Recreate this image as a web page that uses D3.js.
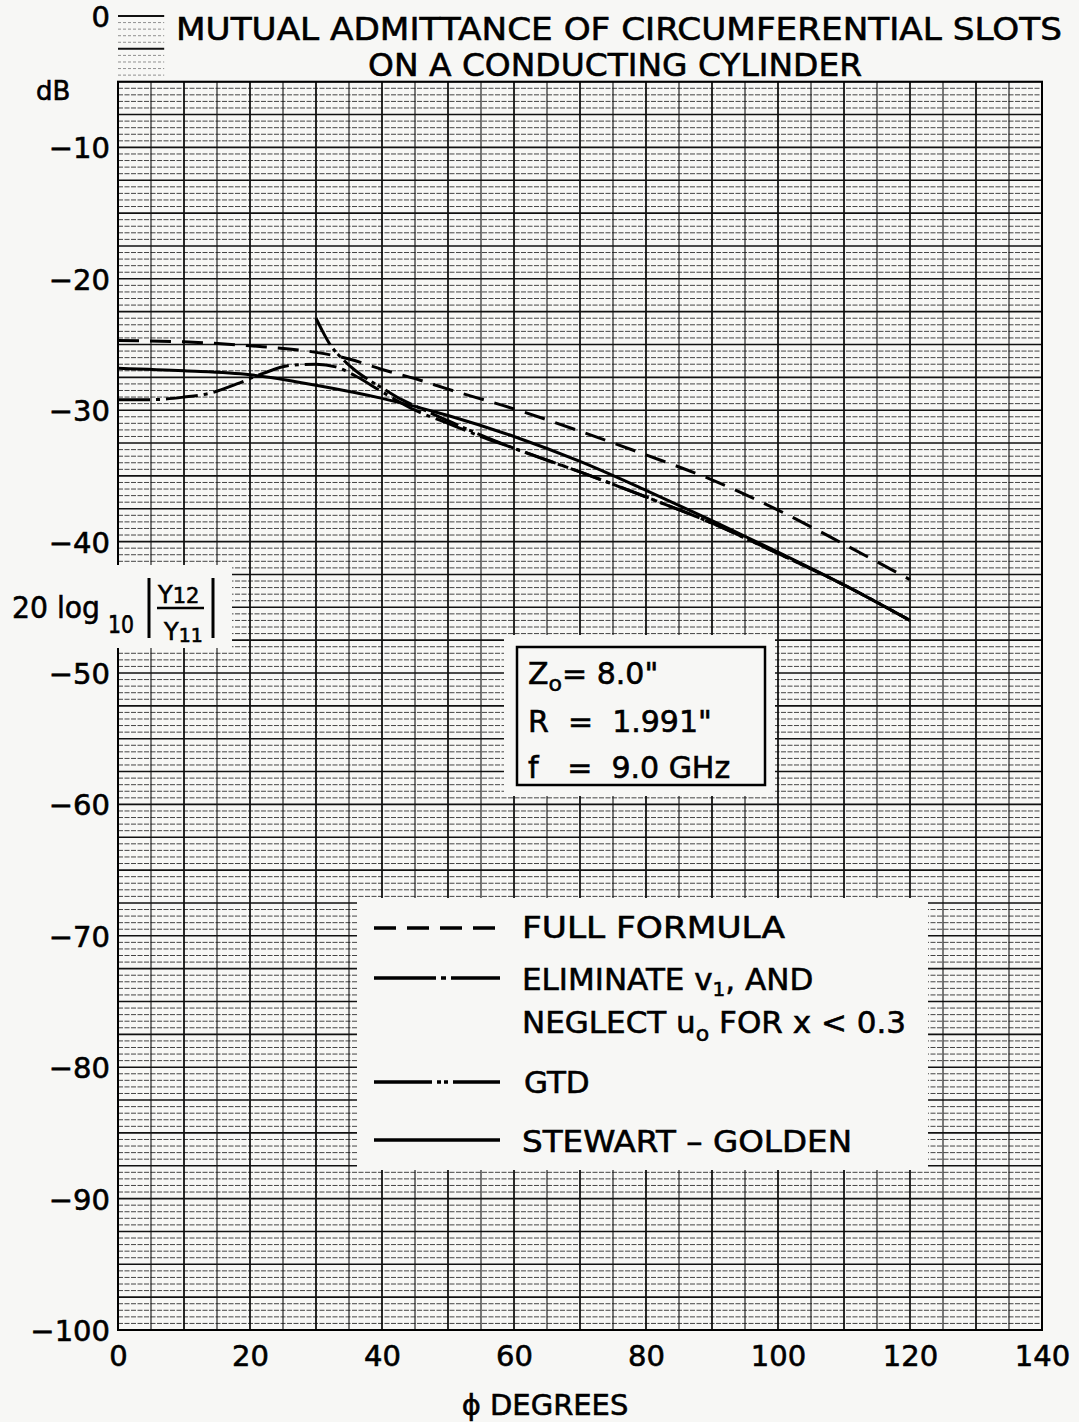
<!DOCTYPE html>
<html>
<head>
<meta charset="utf-8">
<script src="https://cdn.jsdelivr.net/npm/d3@7"></script>
<style>
  body { margin: 0; background: #f7f7f5; }
  svg { display: block; }
  text { font-family: "DejaVu Sans", sans-serif; fill: #000; }
</style>
</head>
<body>
<svg id="chart"></svg>
<script>
const WIDTH = 1079;
const HEIGHT = 1422;

// values (phi in degrees, level in dB)
const phiFull = [0, 10, 20, 30, 35, 40, 45, 50, 60, 70, 80, 90, 100, 110, 120];
const dbFull = [-24.7, -24.8, -25.1, -25.6, -26.1, -26.9, -27.6, -28.4, -29.9, -31.6, -33.4, -35.3, -37.6, -40.2, -42.9];

const phiElim = [0, 5, 10, 14, 18, 22, 26, 30, 33, 36, 40, 45, 50, 55, 60, 70, 80, 90, 100, 110, 120];
const dbElim = [-29.2, -29.2, -29.0, -28.7, -28.0, -27.2, -26.6, -26.5, -26.7, -27.4, -28.6, -30.0, -31.0, -32.0, -32.9, -34.7, -36.6, -38.6, -40.9, -43.3, -46.0];

const phiGTD = [30, 31, 32, 34, 36, 38, 40, 43, 46, 50, 55, 60, 70, 80, 90, 100, 110, 120];
const dbGTD = [-23.0, -24.0, -24.9, -26.1, -27.0, -27.7, -28.3, -29.2, -29.9, -30.8, -31.9, -32.9, -34.7, -36.6, -38.6, -40.9, -43.3, -46.0];

const phiSG = [0, 10, 20, 30, 40, 50, 60, 70, 80, 90, 100, 110, 120];
const dbSG = [-26.8, -27.0, -27.3, -28.1, -29.1, -30.4, -32.0, -33.9, -36.1, -38.4, -40.8, -43.3, -46.0];

const xTicks = [0, 20, 40, 60, 80, 100, 120, 140];
const yTicks = [0, -10, -20, -30, -40, -50, -60, -70, -80, -90, -100];

const seriesNames = ["FULL FORMULA", "ELIMINATE", "GTD", "STEWART - GOLDEN"];
const paramLines = ["8.0\"", "1.991\"", "9.0 GHz"];

const FULL_DASH = "21,11";
const ELIM_DASH = "32,6,4,6";
const GTD_DASH = "30,5,4,3,4,5";

const x = d3.scaleLinear().domain([0, 140]).range([118, 1042]);
const y = d3.scaleLinear().domain([0, -100]).range([16, 1330]);

const svg = d3.select("#chart").attr("width", WIDTH).attr("height", HEIGHT);

// ---- graph paper ----
const grid = svg.append("g");

// main grid runs -5 .. -100 dB, small stub 0 .. -5 at the top left
const halfSteps = d3.range(10, 201).map(i => -i / 2);
grid.selectAll("line.h")
    .data(halfSteps)
    .enter().append("line")
    .attr("x1", x(0)).attr("x2", x(140))
    .attr("y1", d => y(d)).attr("y2", d => y(d))
    .attr("stroke", d => (d * 2) % 5 === 0 ? "#111" : "#444")
    .attr("stroke-width", d => (d * 2) % 5 === 0 ? 1.6 : 1)
    .attr("stroke-dasharray", d => (d * 2) % 5 === 0 ? null : "5,1.5");

const stubSteps = d3.range(0, 10).map(i => -i / 2);
grid.selectAll("line.s")
    .data(stubSteps)
    .enter().append("line")
    .attr("x1", x(0)).attr("x2", x(7))
    .attr("y1", d => y(d)).attr("y2", d => y(d))
    .attr("stroke", d => (d * 2) % 5 === 0 ? "#111" : "#777")
    .attr("stroke-width", d => (d * 2) % 5 === 0 ? 2 : 0.8)
    .attr("stroke-dasharray", d => (d * 2) % 5 === 0 ? null : "3,2");

const vSteps = d3.range(0, 141, 5);
grid.selectAll("line.v")
    .data(vSteps)
    .enter().append("line")
    .attr("x1", d => x(d)).attr("x2", d => x(d))
    .attr("y1", y(-5)).attr("y2", y(-100))
    .attr("stroke", "#111")
    .attr("stroke-width", d => d % 10 === 0 ? 1.8 : 1.1);

grid.append("rect")
    .attr("x", x(0)).attr("y", y(-5))
    .attr("width", x(140) - x(0)).attr("height", y(-100) - y(-5))
    .attr("fill", "none").attr("stroke", "#000").attr("stroke-width", 2);

// ---- curves ----
const line = d3.line()
    .x(d => x(d[0]))
    .y(d => y(d[1]))
    .curve(d3.curveMonotoneX);

const curves = svg.append("g").attr("fill", "none").attr("stroke", "#000").attr("stroke-width", 3);
curves.append("path").attr("d", line(d3.zip(phiSG, dbSG)));
curves.append("path").attr("d", line(d3.zip(phiFull, dbFull))).attr("stroke-dasharray", FULL_DASH);
curves.append("path").attr("d", line(d3.zip(phiElim, dbElim))).attr("stroke-dasharray", ELIM_DASH);
curves.append("path").attr("d", line(d3.zip(phiGTD, dbGTD))).attr("stroke-dasharray", GTD_DASH);

// ---- axes ----
const yAxis = svg.append("g")
    .attr("transform", "translate(110,0)")
    .call(d3.axisLeft(y).tickValues(yTicks).tickSize(0).tickPadding(0));
yAxis.select(".domain").remove();
yAxis.selectAll("text")
    .attr("font-size", 29).attr("font-family", "DejaVu Sans")
    .attr("fill", "#000").attr("stroke", "#000").attr("stroke-width", 0.6)
    .attr("dy", "0.36em");
yAxis.attr("font-size", null).attr("font-family", null);

const xAxis = svg.append("g")
    .attr("transform", "translate(0,1330)")
    .call(d3.axisBottom(x).tickValues(xTicks).tickSize(0).tickPadding(15));
xAxis.select(".domain").remove();
xAxis.selectAll("text")
    .attr("font-size", 29).attr("font-family", "DejaVu Sans")
    .attr("fill", "#000").attr("stroke", "#000").attr("stroke-width", 0.6);
xAxis.attr("font-size", null).attr("font-family", null);

const labels = svg.append("g").attr("stroke", "#000").attr("stroke-width", 0.6);

labels.append("text").attr("x", 36).attr("y", 100).attr("font-size", 26).text("dB");

// title
labels.append("text").attr("x", 176).attr("y", 40).attr("font-size", 32)
    .attr("textLength", 886).attr("lengthAdjust", "spacingAndGlyphs")
    .text("MUTUAL ADMITTANCE OF CIRCUMFERENTIAL SLOTS");
labels.append("text").attr("x", 368).attr("y", 76).attr("font-size", 32)
    .attr("textLength", 494).attr("lengthAdjust", "spacingAndGlyphs")
    .text("ON A CONDUCTING CYLINDER");

// x title
labels.append("text").attr("x", 545).attr("y", 1415).attr("font-size", 29)
    .attr("text-anchor", "middle")
    .text("ϕ DEGREES");

// ---- y label box ----
svg.append("rect").attr("x", 0).attr("y", 565).attr("width", 232).attr("height", 83).attr("fill", "#f7f7f5");
const ylab = svg.append("g").attr("stroke", "#000").attr("stroke-width", 0.6);
ylab.append("text").attr("x", 12).attr("y", 618).attr("font-size", 30)
    .attr("textLength", 88).attr("lengthAdjust", "spacingAndGlyphs").text("20 log");
ylab.append("text").attr("x", 108).attr("y", 633).attr("font-size", 24)
    .attr("textLength", 26).attr("lengthAdjust", "spacingAndGlyphs").text("10");
ylab.append("line").attr("x1", 149).attr("x2", 149).attr("y1", 578).attr("y2", 638).attr("stroke-width", 3);
ylab.append("line").attr("x1", 213).attr("x2", 213).attr("y1", 578).attr("y2", 638).attr("stroke-width", 3);
ylab.append("line").attr("x1", 157).attr("x2", 204).attr("y1", 608).attr("y2", 608).attr("stroke-width", 2.5);
const num = ylab.append("text").attr("x", 158).attr("y", 603).attr("font-size", 24);
num.append("tspan").text("Y");
num.append("tspan").attr("font-size", 21).text("12");
const den = ylab.append("text").attr("x", 164).attr("y", 640).attr("font-size", 24);
den.append("tspan").text("Y");
den.append("tspan").attr("font-size", 19).attr("dy", 2).text("11");

// ---- parameter box ----
svg.append("rect").attr("x", 504).attr("y", 635).attr("width", 271).attr("height", 161).attr("fill", "#f7f7f5");
svg.append("rect").attr("x", 517).attr("y", 647).attr("width", 248).attr("height", 138)
    .attr("fill", "none").attr("stroke", "#000").attr("stroke-width", 2.5);
const params = svg.append("g").attr("font-size", 30).attr("stroke", "#000").attr("stroke-width", 0.6);
const p1 = params.append("text").attr("x", 528).attr("y", 684);
p1.append("tspan").text("Z");
p1.append("tspan").attr("font-size", 22).attr("dy", 7).text("o");
p1.append("tspan").attr("dy", -7).text("= " + paramLines[0]);
params.append("text").attr("x", 528).attr("y", 732).attr("xml:space", "preserve")
    .text("R  =  " + paramLines[1]);
params.append("text").attr("x", 528).attr("y", 778).attr("xml:space", "preserve")
    .text("f   =  " + paramLines[2]);

// ---- legend ----
svg.append("rect").attr("x", 357).attr("y", 898).attr("width", 571).attr("height", 272).attr("fill", "#f7f7f5");
const legend = svg.append("g");
const legendRows = [
    { y: 928, dash: "22,11", label: seriesNames[0] },
    { y: 978, dash: "62,5,5,5,60", label: seriesNames[1] },
    { y: 1082, dash: "58,5,4,3,4,5,60", label: seriesNames[2] },
    { y: 1140, dash: null, label: seriesNames[3] }
];
legend.selectAll("line")
    .data(legendRows)
    .enter().append("line")
    .attr("x1", 374).attr("x2", 500)
    .attr("y1", d => d.y).attr("y2", d => d.y)
    .attr("stroke", "#000").attr("stroke-width", 3.5)
    .attr("stroke-dasharray", d => d.dash);

const lt = legend.append("g").attr("font-size", 31).attr("stroke", "#000").attr("stroke-width", 0.6);
lt.append("text").attr("x", 522).attr("y", 938).attr("textLength", 263).attr("lengthAdjust", "spacingAndGlyphs").text("FULL FORMULA");
const e1 = lt.append("text").attr("x", 522).attr("y", 990);
e1.append("tspan").text("ELIMINATE  v");
e1.append("tspan").attr("font-size", 20).attr("dy", 6).text("1");
e1.append("tspan").attr("dy", -6).text(", AND");
const e2 = lt.append("text").attr("x", 522).attr("y", 1033);
e2.append("tspan").text("NEGLECT  u");
e2.append("tspan").attr("font-size", 22).attr("dy", 8).text("o");
e2.append("tspan").attr("dy", -8).text(" FOR  x < 0.3");
lt.append("text").attr("x", 524).attr("y", 1093).text("GTD");
lt.append("text").attr("x", 522).attr("y", 1152).attr("textLength", 330).attr("lengthAdjust", "spacingAndGlyphs").text("STEWART – GOLDEN");
</script>
</body>
</html>
